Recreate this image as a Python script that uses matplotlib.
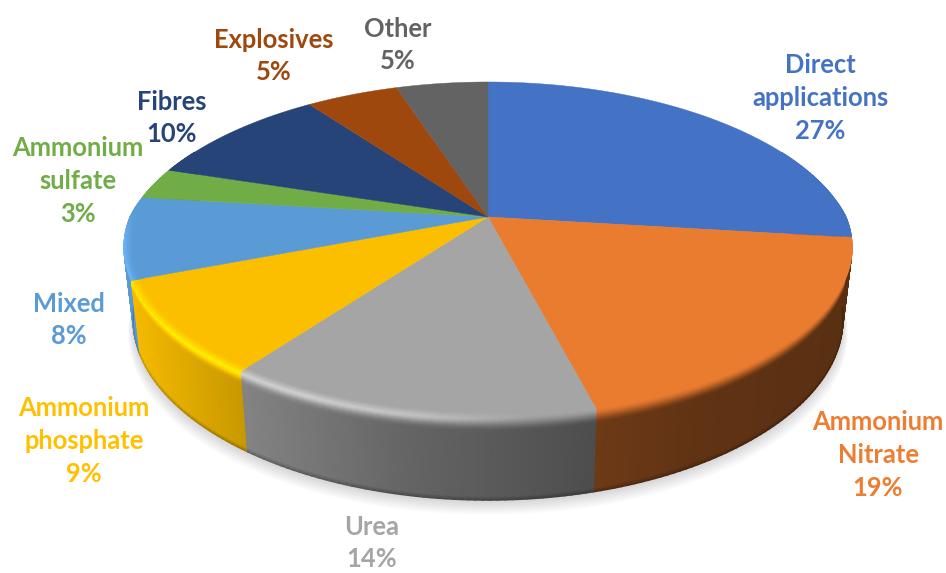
import numpy as np
import matplotlib
matplotlib.use("Agg")
import matplotlib.pyplot as plt

# Shares of ammonia use, clockwise from twelve o'clock
names = ["Direct\napplications", "Ammonium\nNitrate", "Urea", "Ammonium\nphosphate",
         "Mixed", "Ammonium\nsulfate", "Fibres", "Explosives", "Other"]
values = [27, 19, 14, 9, 8, 3, 10, 5, 5]
colors = ["#4472c4", "#ea7c30", "#a5a5a5", "#fbbf00", "#5b9bd5",
          "#70ad47", "#264478", "#9e480e", "#636363"]
text_colors = ["#4472c4", "#ed7d31", "#a5a5a5", "#ffc000", "#5b9bd5",
               "#70ad47", "#264478", "#9e480e", "#636363"]
label_centers = [(820, 98), (878, 455), (372, 543), (84, 441), (69, 320),
                 (78, 181), (172, 118), (274, 56), (398, 45)]

# Perspective disc geometry, in pixels
CX, CY = 488.0, 217.0
RX, RY = 358.0, 159.6
DEPTH = 71.0
NARROW = 0.025
BEVEL = 13.0
INSET = 0.972


def project(theta, h=0.0, r=1.0):
    """Map a rim angle, a drop below the top face and a radius to figure pixels."""
    sn = np.sin(theta)
    wx = 1 + np.where(sn > 0, 0.22, 0.182) * sn
    wy = 1 + np.where(sn > 0, 0.182, 0.20) * sn
    s = r * (1 - NARROW * h / DEPTH)
    return CX + s * RX * np.cos(theta) / wx, CY + (h - s * RY * sn) / wy


def wall_shade(x):
    """Brightness of the side wall, lit from the left."""
    return np.interp(x, [125, 245, 400, 590, 700, 850], [1.0, 0.80, 0.62, 0.47, 0.41, 0.38])


def glint(x, theta):
    """Strength of the specular streak along the rounded rim."""
    fade = np.clip((0.05 - np.sin(theta)) / 0.2, 0, 1)
    return fade * np.interp(x, [120, 300, 420, 530], [0.26, 0.28, 0.20, 0.0])


fig = plt.figure(figsize=(9.46, 5.73), dpi=100, facecolor="white")
ax = fig.add_axes([0, 0, 1, 1])
ax.set_xlim(0, 946)
ax.set_ylim(573, 0)
ax.axis("off")

# Soft ground shadow under the disc
rim = np.linspace(0, 2 * np.pi, 360)
for k in range(14):
    px, py = project(rim, DEPTH)
    grow = 1 + 0.0011 * k
    ax.fill(CX + (px - CX) * grow, py + 1.0 + 1.05 * k, color="black",
            alpha=0.011, lw=0, zorder=1)

fractions = np.array(values, dtype=float) / sum(values)
edges = np.pi / 2 - 2 * np.pi * np.concatenate([[0], np.cumsum(fractions)])

# Stations down the rim: rounded edge first, then the flat wall and its dark foot
bevel_t = np.linspace(0, 1, 9)
drops = np.concatenate([bevel_t * BEVEL, [BEVEL + 6, DEPTH - 3, DEPTH]])


def slice_angles(i, limit):
    n = max(int(abs(edges[i] - edges[i + 1]) / np.radians(1.0)), 2)
    angles = np.linspace(edges[i], edges[i + 1], n + 1)
    return angles[np.sin(angles) < limit]


# Side wall and rounded rim, one smooth-shaded mesh per slice, back slices first
slice_order = np.argsort([-np.sin((edges[i] + edges[i + 1]) / 2) for i in range(len(colors))])
for z, i in enumerate(slice_order):
    base = np.array(matplotlib.colors.to_rgb(colors[i]))
    angles = slice_angles(i, 0.45)
    if len(angles) < 2:
        continue
    A, D = np.meshgrid(angles, drops)
    X, Y = project(A, D)
    shade = wall_shade(X[-1])
    level = np.ones_like(X)
    for r, d in enumerate(drops):
        if d <= BEVEL:
            t = d / BEVEL
            ease = t * t * (3 - 2 * t)
            level[r] = 1 + (shade - 1) * ease + glint(X[r], A[r]) * np.exp(-((t - 0.2) / 0.32) ** 2)
        else:
            level[r] = shade
    level[-1] = shade * 0.72
    ax.pcolormesh(X, Y, np.clip(level[..., None] * base, 0, 1),
                  shading="gouraud", zorder=2 + z * 0.01)

# Top face
for i, color in enumerate(colors):
    n = max(int(abs(edges[i] - edges[i + 1]) / np.radians(0.5)), 2)
    px, py = project(np.linspace(edges[i], edges[i + 1], n + 1))
    ax.fill(np.r_[CX, px], np.r_[CY, py], color=color, lw=0.3, zorder=3)

# Inner lip of the rim, where the highlight starts to rise on the face
radii = np.linspace(INSET, 1.0, 5)
for i, color in enumerate(colors):
    base = np.array(matplotlib.colors.to_rgb(color))
    angles = slice_angles(i, 0.1)
    if len(angles) < 2:
        continue
    A, R = np.meshgrid(angles, radii)
    X, Y = project(A, 0.0, R)
    ramp = ((R - INSET) / (1 - INSET)) ** 2
    level = 1 + glint(X, A) * ramp * np.exp(-(0.2 / 0.32) ** 2)
    ax.pcolormesh(X, Y, np.clip(level[..., None] * base, 0, 1),
                  shading="gouraud", zorder=3.5)

# Category labels
for name, value, tc, (lx, ly) in zip(names, values, text_colors, label_centers):
    ax.text(lx, ly, f"{name}\n{value}%", color=tc, ha="center", va="center",
            family="Lato", weight="bold", fontsize=18.4, linespacing=1.44, zorder=4)

fig.savefig("out.png", dpi=100, facecolor="white")
